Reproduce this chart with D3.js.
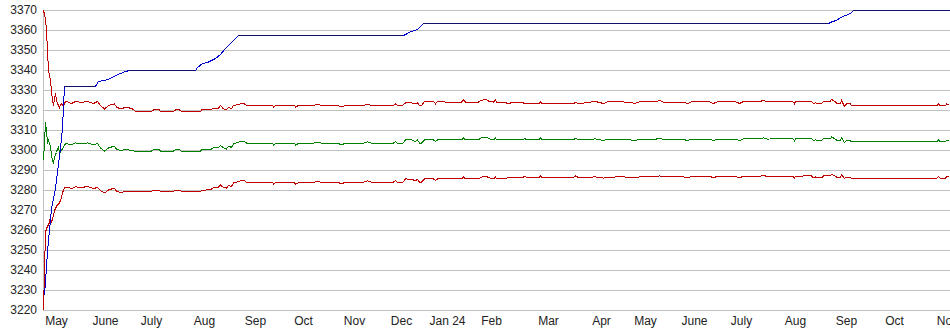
<!DOCTYPE html>
<html>
  <head>
    <meta charset="utf-8" />
    <title>Price with bands</title>
    <script src="https://cdn.jsdelivr.net/npm/d3@7"></script>
    <style>
      body { margin: 0; background: #fff; }
      svg { display: block; font-family: "Liberation Sans", Arial, sans-serif; }
    </style>
  </head>
  <body>
    <svg id="svg" width="950" height="335"></svg>
    <script>
      // Month labels and the session index they sit on
      let monthT = [6.5, 31, 54, 80.5, 106, 130, 155.5, 179, 202, 224,
                    252.5, 279, 301, 325.5, 349, 376, 401.5, 425.5, 452];
      let monthLabels = ["May", "June", "July", "Aug", "Sep", "Oct", "Nov", "Dec", "Jan 24", "Feb",
                         "Mar", "Apr", "May", "June", "July", "Aug", "Sep", "Oct", "Nov"];
      let yTicks = d3.range(3220, 3371, 10);

      // Blue/black price line (session index, value)
      let priceT = [0.5, 1, 1.5, 2, 2.5, 3, 4, 5, 6, 7,
                    8, 8.5, 9, 9.5, 10, 10.5, 26, 27.5, 32.5, 35,
                    38.5, 41, 43, 76, 77, 79.5, 82, 84, 86, 88.5,
                    91, 93.5, 96, 97.5, 180, 182, 183.5, 186, 187.5, 188.5,
                    190, 392.5, 394.5, 396.5, 398.5, 401, 403.5, 405, 453];
      let price = [3228, 3234, 3242, 3249, 3255, 3260, 3271, 3276, 3281, 3289,
                   3297, 3301, 3306, 3311, 3322, 3332, 3332, 3334.5, 3335.5, 3337,
                   3338.5, 3339.5, 3340, 3340, 3341.5, 3343.5, 3344, 3345, 3346, 3348,
                   3351, 3353.5, 3356, 3357.5, 3357.5, 3358.5, 3359.5, 3360, 3361, 3362,
                   3363.5, 3363.5, 3364.5, 3365, 3366.5, 3367.5, 3368.5, 3370, 3370];

      // Bands: shared session index, upper (red), middle (green), lower (red)
      let bandT = [0, 0.5, 1, 1.5, 2, 2.5, 3, 3.5, 4, 4.5,
                   5, 5.5, 6, 6.5, 7, 7.5, 8, 8.5, 9, 9.5,
                   10, 10.5, 11.5, 14, 16, 19, 22, 25, 27, 28.5,
                   30.5, 32.5, 35.5, 36.5, 38.5, 41.5, 44.5, 46, 54, 55,
                   58, 58.5, 65, 66, 68, 69, 78.5, 79, 83.5, 85,
                   87.5, 88.5, 90, 91.5, 92.5, 94, 95, 98.5, 100.5, 101.5,
                   114.5, 115, 116, 125.5, 126, 127.5, 135, 137, 139, 147,
                   149, 151, 160, 162, 164, 168.5, 175, 176, 177, 179.5,
                   181, 184, 186, 187, 188, 189, 190.5, 195, 196, 197,
                   201.5, 209, 210, 211, 217.5, 218.5, 220, 221.5, 223, 225,
                   226, 226.5, 231, 232, 235, 239.5, 240.5, 242, 247.5, 248.5,
                   249.5, 265, 266, 267.5, 272, 276, 280, 282, 290, 296,
                   298, 306, 308, 310, 320, 322, 324, 333, 335, 337,
                   346, 348, 350, 358, 360, 362, 368.5, 374.5, 375.5, 376,
                   384, 385, 386, 386.5, 389, 390, 393.5, 394, 395.5, 396.5,
                   398.5, 399, 400.5, 401.5, 403.5, 404, 446.5, 447.5, 448.5, 451,
                   451.5, 453];
      let upper = [3370, 3368, 3366, 3360, 3350, 3340, 3338, 3335, 3330, 3325,
                   3322.5, 3326, 3328.5, 3325, 3323.5, 3322.5, 3321.5, 3323, 3323.5, 3322.5,
                   3321.7, 3324, 3324.5, 3323.5, 3324.5, 3324, 3324.5, 3323.5, 3324.5, 3322.5,
                   3320.8, 3322.5, 3323.3, 3321.7, 3320.8, 3321.7, 3320.8, 3319.5, 3319.5, 3320.3,
                   3320.3, 3319.5, 3319.5, 3320.3, 3320.3, 3319.5, 3319.5, 3320.3, 3320.3, 3321.2,
                   3321.2, 3322.5, 3320.8, 3320.3, 3321.7, 3320.8, 3322.5, 3323.3, 3323.3, 3322.5,
                   3322.5, 3321.7, 3322.5, 3322.5, 3321.7, 3322.5, 3322.5, 3323.2, 3322.5, 3322.5,
                   3321.8, 3322.5, 3322.5, 3323.2, 3322.5, 3322.5, 3322.5, 3323.3, 3322.5, 3322.5,
                   3323.8, 3323.8, 3323.3, 3323.8, 3322.5, 3322.5, 3324.5, 3324.5, 3323.3, 3324.5,
                   3324.2, 3324.2, 3325.3, 3324.2, 3324.2, 3325, 3325.3, 3325.3, 3324.5, 3324.2,
                   3325.3, 3324.2, 3324.2, 3323.3, 3324.2, 3324.2, 3323.3, 3323.3, 3323.3, 3324.2,
                   3323.3, 3323.3, 3324.2, 3323.3, 3324, 3324.5, 3323.5, 3324.3, 3324.3, 3323.6,
                   3324.4, 3324.4, 3325, 3324.2, 3324.2, 3323.4, 3324.3, 3324.3, 3323.5, 3324.4,
                   3324.4, 3323.5, 3324.5, 3324.5, 3325, 3324.4, 3324.7, 3324.7, 3323.3, 3324.7,
                   3324.7, 3323.3, 3324, 3323.3, 3323.3, 3324.7, 3324.7, 3325.5, 3324.7, 3323.7,
                   3323.7, 3325, 3322, 3323.3, 3323.3, 3322.3, 3322.3, 3323.3, 3322.3, 3322.3,
                   3323.3, 3323];
      let middle = [3295, 3304, 3314, 3310, 3304, 3305, 3303.5, 3302, 3298, 3295,
                    3293.5, 3296.5, 3298, 3299, 3301, 3301.7, 3298.5, 3299.5, 3300, 3301,
                    3301.7, 3303, 3303.5, 3302.8, 3303.8, 3303.3, 3303.8, 3302.8, 3303.5, 3301.3,
                    3299.8, 3301.3, 3302.2, 3300.7, 3300, 3300.5, 3299.8, 3299.7, 3299.7, 3300.3,
                    3300.3, 3299.7, 3299.7, 3300.3, 3300.3, 3299.7, 3299.7, 3300.3, 3300.3, 3301.5,
                    3301.5, 3302.5, 3301.3, 3300.7, 3302.2, 3301.5, 3303.3, 3304.5, 3304.5, 3303.7,
                    3303.7, 3302.5, 3303.7, 3303.7, 3302.5, 3303.7, 3303.7, 3304.2, 3303.7, 3303.5,
                    3303, 3303.5, 3303.7, 3304.3, 3303.7, 3303.7, 3303.7, 3304.5, 3303.3, 3303.3,
                    3305.3, 3305.3, 3304.5, 3305.3, 3303.7, 3303.7, 3305.3, 3305.3, 3304.5, 3305.3,
                    3305.3, 3305.3, 3306.2, 3305.3, 3305.3, 3306.2, 3306.7, 3306.7, 3305.8, 3305.3,
                    3306.2, 3305.3, 3305.3, 3305.3, 3305.3, 3305.3, 3306, 3305.3, 3305.3, 3306.2,
                    3305.3, 3305.3, 3306.2, 3305.3, 3305.5, 3305.8, 3305, 3305.6, 3305.6, 3305,
                    3305.6, 3305.6, 3306.2, 3305.5, 3305.5, 3305, 3305.6, 3305.6, 3305, 3305.7,
                    3305.7, 3305, 3305.8, 3305.8, 3306.3, 3305.7, 3306, 3306, 3304.8, 3306,
                    3306, 3304.8, 3305.4, 3304.8, 3304.8, 3306, 3306, 3306.8, 3306, 3305.2,
                    3305.2, 3306.5, 3304, 3305, 3304.8, 3304.3, 3304.3, 3305.2, 3304.3, 3304.3,
                    3305.2, 3305];
      let lower = [3220, 3240, 3259, 3261, 3262, 3263, 3264, 3267, 3264, 3266,
                   3267.5, 3270, 3271, 3272, 3273, 3273, 3274, 3275, 3276.7, 3279,
                   3280, 3281.7, 3281.7, 3281, 3281.8, 3281.5, 3282, 3281, 3281.5, 3280,
                   3278.8, 3280.3, 3281.2, 3279.7, 3279, 3279.7, 3279.5, 3279.5, 3279.5, 3280.2,
                   3280.2, 3279.5, 3279.5, 3280.2, 3280.2, 3279.5, 3279.5, 3280.2, 3280.3, 3281.5,
                   3281.7, 3282.7, 3281.5, 3281.2, 3282.5, 3282, 3283.8, 3284.8, 3284.8, 3284.2,
                   3284.2, 3283, 3284.2, 3284, 3283, 3284, 3284, 3284.6, 3284, 3284,
                   3283.5, 3284, 3284.2, 3284.8, 3284.2, 3284.2, 3284.2, 3285, 3284, 3284,
                   3285.8, 3285.5, 3285, 3285.5, 3284.2, 3284.2, 3285.8, 3285.8, 3285, 3285.8,
                   3285.8, 3285.8, 3286.8, 3285.8, 3285.8, 3286.5, 3287, 3287, 3286.3, 3285.8,
                   3286.8, 3285.8, 3285.8, 3286.5, 3286.3, 3286.3, 3287.2, 3286.3, 3286.3, 3287.2,
                   3286.3, 3286.5, 3287.3, 3286.5, 3286.6, 3286.8, 3286.2, 3286.7, 3286.8, 3286.3,
                   3286.8, 3286.9, 3287.3, 3286.8, 3286.8, 3286.4, 3286.9, 3287, 3286.5, 3287,
                   3287, 3286.4, 3287.1, 3287.1, 3287.5, 3287, 3287.2, 3287.2, 3286.3, 3287.2,
                   3287.3, 3286.3, 3286.8, 3286.3, 3286.3, 3287.3, 3287.4, 3288, 3287.4, 3286.7,
                   3286.7, 3288, 3286, 3286.7, 3286.4, 3286, 3286, 3287, 3286, 3286,
                   3287, 3286.7];

      let svg = d3.select("svg");

      let x = d3.scaleLinear().domain([0, 453]).range([43.5, 949.5]);
      let y = d3.scaleLinear().domain([3220, 3370]).range([310.5, 10.5]);

      // Horizontal grid lines
      let grid = svg.append("g")
        .attr("transform", "translate(43.5,0)")
        .call(d3.axisLeft(y).tickValues(yTicks).tickSize(-906.5).tickFormat("").offset(0));
      grid.select(".domain").remove();
      grid.selectAll("line").attr("stroke", "#c0c0c0");

      // Left edge of the plot
      svg.append("line")
        .attr("x1", 43.5).attr("x2", 43.5)
        .attr("y1", y(3370)).attr("y2", y(3220))
        .attr("stroke", "#c0c0c0");

      // Y labels
      let yAxis = svg.append("g")
        .attr("transform", "translate(43.5,0)")
        .call(d3.axisLeft(y).tickValues(yTicks).tickSize(0).tickPadding(6.5).tickFormat(d3.format("d")).offset(0));
      yAxis.select(".domain").remove();
      yAxis.selectAll("text")
        .attr("dy", "0.25em")
        .attr("fill", "#222")
        .style("font-size", "12px")
        .style("font-family", "'Liberation Sans', Arial, sans-serif");

      // X labels
      let xAxis = svg.append("g")
        .attr("transform", "translate(0," + y(3220) + ")")
        .call(d3.axisBottom(x).tickValues(monthT).tickSize(0).tickPadding(5.5)
          .tickFormat((d, i) => monthLabels[i]).offset(0));
      xAxis.select(".domain").remove();
      xAxis.selectAll("text")
        .attr("fill", "#222")
        .style("font-size", "12px")
        .style("font-family", "'Liberation Sans', Arial, sans-serif");

      // Band lines
      function drawSeries(ts, vs, colour) {
        let pts = ts.map((t, i) => [t, vs[i]]);
        svg.append("path")
          .datum(pts)
          .attr("d", d3.line().x((d) => x(d[0])).y((d) => y(d[1])))
          .attr("fill", "none")
          .attr("stroke", colour)
          .attr("stroke-width", 1)
          .attr("shape-rendering", "crispEdges");
      }
      drawSeries(bandT, upper, "#c00000");
      drawSeries(bandT, middle, "#008000");
      drawSeries(bandT, lower, "#c00000");

      // Price line: blue while rising, dark while flat
      let pricePts = priceT.map((t, i) => [t, price[i]]);
      svg.append("g")
        .selectAll("line")
        .data(d3.pairs(pricePts))
        .enter()
        .append("line")
        .attr("x1", (d) => x(d[0][0]))
        .attr("y1", (d) => y(d[0][1]))
        .attr("x2", (d) => x(d[1][0]))
        .attr("y2", (d) => y(d[1][1]))
        .attr("stroke", (d) => (d[1][1] > d[0][1] ? "#0000cc" : "#10106a"))
        .attr("stroke-width", 1)
        .attr("stroke-linecap", "square")
        .attr("shape-rendering", "crispEdges");
    </script>
  </body>
</html>
